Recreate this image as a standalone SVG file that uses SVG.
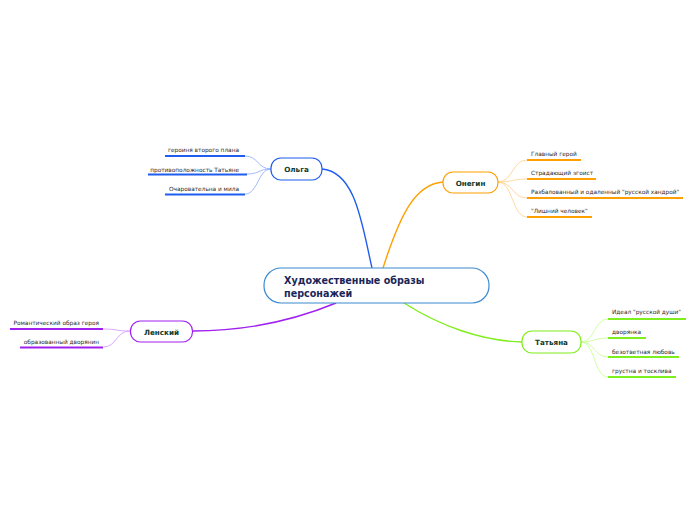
<svg xmlns="http://www.w3.org/2000/svg" width="696" height="520" viewBox="0 0 696 520">
<style>
.bg{fill:#ffffff}
.node{fill:#ffffff;stroke-width:1.2}
.ntext{font-family:"DejaVu Sans",sans-serif;font-weight:bold;font-size:7.2px;fill:#0d3b2e;text-anchor:middle}
.ctext{font-family:"DejaVu Sans",sans-serif;font-weight:bold;font-size:9.6px;fill:#1a2658}
.leaf{font-family:"DejaVu Sans",sans-serif;font-size:5.8px;fill:#2a2a2a}
.main{fill:none;stroke-width:1.4}
.thin{fill:none;stroke-width:0.8}
.ul{fill:none;stroke-width:1.8}
.blue{stroke:#1f5cf0}
.blueL{stroke:#8aa8ff}
.orange{stroke:#ffa000}
.orangeL{stroke:#ffcf85}
.purple{stroke:#a020f0}
.purpleL{stroke:#d393ff}
.green{stroke:#7fee1d}
.greenL{stroke:#c4ff8c}
</style>
<rect class="bg" x="0" y="0" width="696" height="520"/>
<g id="connectors">
<path class="main blue" d="M372,268 C362,225 356,172 322,169"/>
<path class="main orange" d="M383,268 C400,215 415,184 443,182"/>
<path class="main purple" d="M336,303 C290,322 240,331 193,331"/>
<path class="main green" d="M404,303 C440,326 482,341 522,342"/>
<path class="thin blueL" d="M271,169 C258,169 258,156 245,156"/>
<path class="thin blueL" d="M271,169 C258,169 260,174 247,174"/>
<path class="thin blueL" d="M271,169 C258,169 258,194 245,194"/>
<path class="thin orangeL" d="M498,182 C513,182 512,160 527,160"/>
<path class="thin orangeL" d="M498,182 C513,182 512,179 527,179"/>
<path class="thin orangeL" d="M498,182 C513,182 512,198 527,198"/>
<path class="thin orangeL" d="M498,182 C513,182 512,217 527,217"/>
<path class="thin purpleL" d="M130,331 C116,331 117,329 103,329"/>
<path class="thin purpleL" d="M130,331 C116,331 117,347 103,347"/>
<path class="thin greenL" d="M581,342 C595,342 594,319 608,319"/>
<path class="thin greenL" d="M581,342 C595,342 594,338 608,338"/>
<path class="thin greenL" d="M581,342 C595,342 594,357 608,357"/>
<path class="thin greenL" d="M581,342 C595,342 594,377 608,377"/>
</g>
<g id="central">
<rect class="node" x="264" y="268" width="225" height="35" rx="17" style="stroke:#3a8ad0"/>
<text class="ctext" x="284" y="284">Художественные образы</text>
<text class="ctext" x="284" y="297">персонажей</text>
</g>
<g id="olga">
<rect class="node blue" x="271" y="158" width="51" height="22" rx="10"/>
<text class="ntext" x="296.5" y="172">Ольга</text>
</g>
<g id="olga-1">
<path class="ul blue" d="M165,156 H245"/>
<text class="leaf" x="239" y="152" text-anchor="end">героиня второго плана</text>
</g>
<g id="olga-2">
<path class="ul blue" d="M148,174.5 H247"/>
<text class="leaf" x="239" y="171.5" text-anchor="end">противоположность Татьяне</text>
</g>
<g id="olga-3">
<path class="ul blue" d="M165,194.5 H245"/>
<text class="leaf" x="239" y="190.5" text-anchor="end">Очаровательна и мила</text>
</g>
<g id="onegin">
<rect class="node orange" x="443" y="172" width="55" height="21" rx="10"/>
<text class="ntext" x="470.5" y="185.5">Онегин</text>
</g>
<g id="onegin-1">
<path class="ul orange" d="M527,160 H581"/>
<text class="leaf" x="531" y="156">Главный герой</text>
</g>
<g id="onegin-2">
<path class="ul orange" d="M527,179 H596"/>
<text class="leaf" x="531" y="175">Страдающий эгоист</text>
</g>
<g id="onegin-3">
<path class="ul orange" d="M527,198 H683"/>
<text class="leaf" x="531" y="194">Разбалованный и одаленный "русской хандрой"</text>
</g>
<g id="onegin-4">
<path class="ul orange" d="M527,217 H592"/>
<text class="leaf" x="531" y="213">"Лишний человек"</text>
</g>
<g id="lensky">
<rect class="node purple" x="130.5" y="321" width="62" height="21" rx="10"/>
<text class="ntext" x="161.5" y="334.5">Ленский</text>
</g>
<g id="lensky-1">
<path class="ul purple" d="M10,329 H103"/>
<text class="leaf" x="99" y="325" text-anchor="end">Романтический образ героя</text>
</g>
<g id="lensky-2">
<path class="ul purple" d="M20,347.5 H103"/>
<text class="leaf" x="99" y="344" text-anchor="end">образованный дворянин</text>
</g>
<g id="tatiana">
<rect class="node green" x="522" y="331" width="59" height="22" rx="10"/>
<text class="ntext" x="551.5" y="345">Татьяна</text>
</g>
<g id="tatiana-1">
<path class="ul green" d="M608,319 H686"/>
<text class="leaf" x="612" y="314">Идеал "русской души"</text>
</g>
<g id="tatiana-2">
<path class="ul green" d="M608,338 H646"/>
<text class="leaf" x="612" y="334">дворянка</text>
</g>
<g id="tatiana-3">
<path class="ul green" d="M608,357 H679"/>
<text class="leaf" x="612" y="354">безответная любовь</text>
</g>
<g id="tatiana-4">
<path class="ul green" d="M608,377 H676"/>
<text class="leaf" x="612" y="373">грустна и тосклива</text>
</g>
</svg>
